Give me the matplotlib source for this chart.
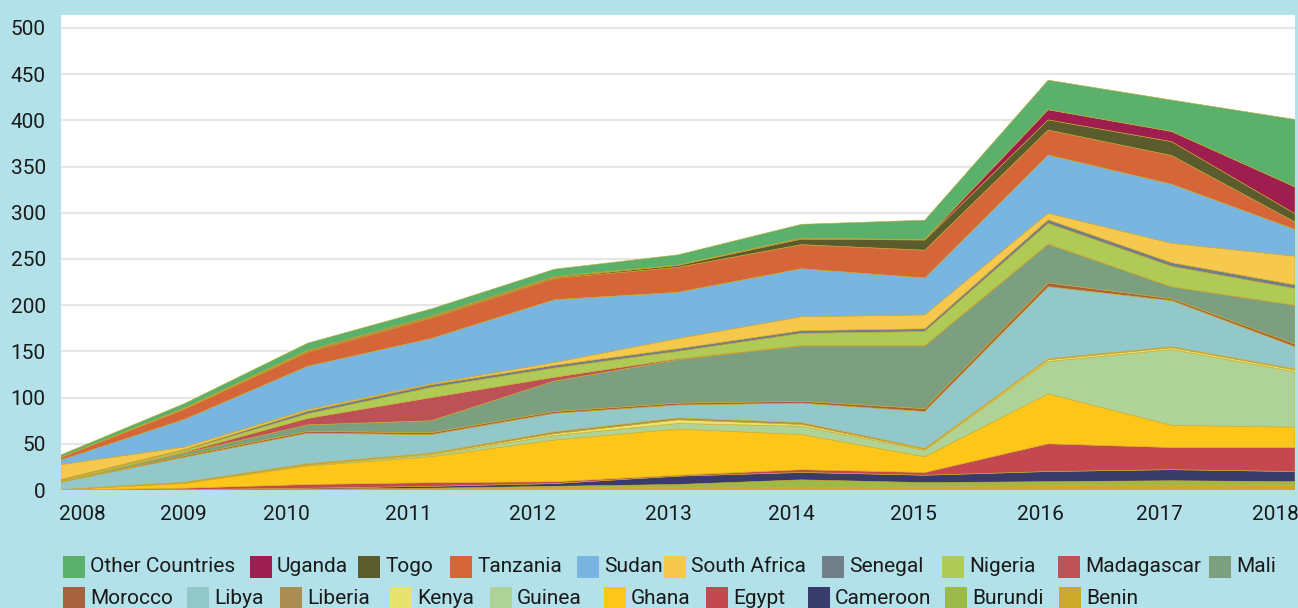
import matplotlib
matplotlib.use("Agg")
import matplotlib.pyplot as plt
import matplotlib.transforms as mtransforms
from matplotlib.patches import Rectangle

years = [2008, 2009, 2010, 2011, 2012, 2013, 2014, 2015, 2016, 2017, 2018]

# stacking order bottom -> top
countries = ["Benin", "Burundi", "Cameroon", "Egypt", "Ghana", "Guinea", "Kenya",
             "Liberia", "Libya", "Morocco", "Mali", "Madagascar", "Nigeria",
             "Senegal", "South Africa", "Sudan", "Tanzania", "Togo", "Uganda",
             "Other Countries"]

benin        = [0, 0, 0.5, 1, 2, 3, 3, 3, 5, 5, 5]
burundi      = [0, 0, 0.5, 1, 2, 3, 8, 5, 4, 5, 4]
cameroon     = [0, 0.5, 1, 2, 3, 9, 8, 8, 11, 12, 11]
egypt        = [0, 1.5, 4, 4, 2, 1, 3, 3, 30, 24, 26]
ghana        = [0.5, 5, 20, 28, 45, 50, 38, 17, 54, 24, 22]
guinea       = [0, 0.5, 1, 2, 5, 6, 9, 7, 35, 82, 60]
kenya        = [0, 0.5, 0.5, 1, 2, 4, 2, 1, 2, 2, 2]
liberia      = [0, 0.5, 1, 1, 2, 2, 2, 1, 1, 1, 1]
libya        = [8, 27, 33, 20, 20, 14, 21, 40, 78, 50, 24]
morocco      = [0.5, 1.5, 2, 2, 2, 2, 2, 3, 4, 2, 3]
mali         = [0.5, 3, 7, 13, 33, 47, 60, 68, 42, 13, 42]
madagascar   = [0, 1, 7, 25, 4, 1, 0.5, 0.5, 0.5, 0, 0]
nigeria      = [1, 2, 5, 11, 10, 8, 13, 15, 22, 22, 18]
senegal      = [1, 1, 3, 3, 3, 3, 3, 3, 4, 4, 4]
south_africa = [16, 2.5, 1.5, 1, 3, 11, 15, 15, 7, 21, 31]
sudan        = [5, 30, 47, 49, 68, 50, 52, 40, 63, 64, 29]
tanzania     = [3, 11, 15, 22, 23, 27, 26, 30, 27, 31, 8]
togo         = [0, 0.5, 1, 1, 1, 2, 6, 11, 11, 15, 9]
uganda       = [0, 0.5, 1, 1, 1, 0.5, 1, 0.5, 11, 11, 29]
other        = [2.5, 5, 8, 8, 8, 11, 15, 21, 32, 34, 73]

series = [benin, burundi, cameroon, egypt, ghana, guinea, kenya, liberia, libya,
          morocco, mali, madagascar, nigeria, senegal, south_africa, sudan,
          tanzania, togo, uganda, other]

colors = ["#CCA92A", "#9DBA48", "#393C6A", "#C5474F", "#FEC619", "#AFD396",
          "#E8E26E", "#A98D52", "#93C8CB", "#A8613F", "#7C9F80", "#BC5157",
          "#B0CA58", "#717F88", "#F7C84E", "#78B5E0", "#D4663A", "#5A5C2E",
          "#9E1F4F", "#5BB16C"]

yticks = [0, 50, 100, 150, 200, 250, 300, 350, 400, 450, 500]

BG = "#B3E1E9"
W, H = 1298, 608
plt.rcParams['font.family'] = ['Roboto', 'DejaVu Sans']

fig = plt.figure(figsize=(W / 100, H / 100), dpi=100, facecolor=BG)
ax = fig.add_axes([61 / W, (H - 490) / H, (1295 - 61) / W, 475 / H])
ax.set_facecolor("white")

ax.stackplot(years, *series, colors=colors, linewidth=0.4,
             edgecolors=colors, zorder=3)

ax.set_xlim(2008, 2018)
ax.set_ylim(0, 514)
ax.set_yticks(yticks)
ax.set_xticks(years)
ax.set_xticklabels([str(y) for y in years])
ax.grid(axis="y", color="#e6e6e6", linewidth=1.6, zorder=0)
ax.grid(axis="x", visible=False)
for s in ax.spines.values():
    s.set_visible(False)
ax.tick_params(axis="both", length=0, labelsize=15, colors="#1a1a1a")
ax.tick_params(axis="y", pad=11)
ax.tick_params(axis="x", pad=11)

# shift x labels to match reference placement (pixels)
xoffs = [21, -1, -21, -23, -22, -10, -10, -11, -8, -12, -20]
for lab, dx in zip(ax.get_xticklabels(), xoffs):
    lab.set_transform(lab.get_transform() +
                      mtransforms.ScaledTranslation(dx / 100, 0, fig.dpi_scale_trans))

# legend (flow layout like the reference), top row first
row1 = ["Other Countries", "Uganda", "Togo", "Tanzania", "Sudan", "South Africa",
        "Senegal", "Nigeria", "Madagascar", "Mali"]
row2 = ["Morocco", "Libya", "Liberia", "Kenya", "Guinea", "Ghana", "Egypt",
        "Cameroon", "Burundi", "Benin"]
row1_x = [63, 250, 358, 450, 577, 664, 822, 942, 1058, 1209]
row2_x = [63, 187, 280, 390, 490, 604, 706, 808, 945, 1059]
cmap = dict(zip(countries, colors))
for names, xs, yc in [(row1, row1_x, 567), (row2, row2_x, 598)]:
    for name, x0 in zip(names, xs):
        fig.patches.append(Rectangle((x0 / W, (H - yc - 11) / H), 22 / W, 22 / H,
                                     transform=fig.transFigure,
                                     facecolor=cmap[name], edgecolor="none"))
        fig.text((x0 + 27) / W, (H - yc) / H, name, fontsize=15,
                 color="#1a1a1a", va="center", ha="left")

fig.savefig("out.png", dpi=100, facecolor=BG)
